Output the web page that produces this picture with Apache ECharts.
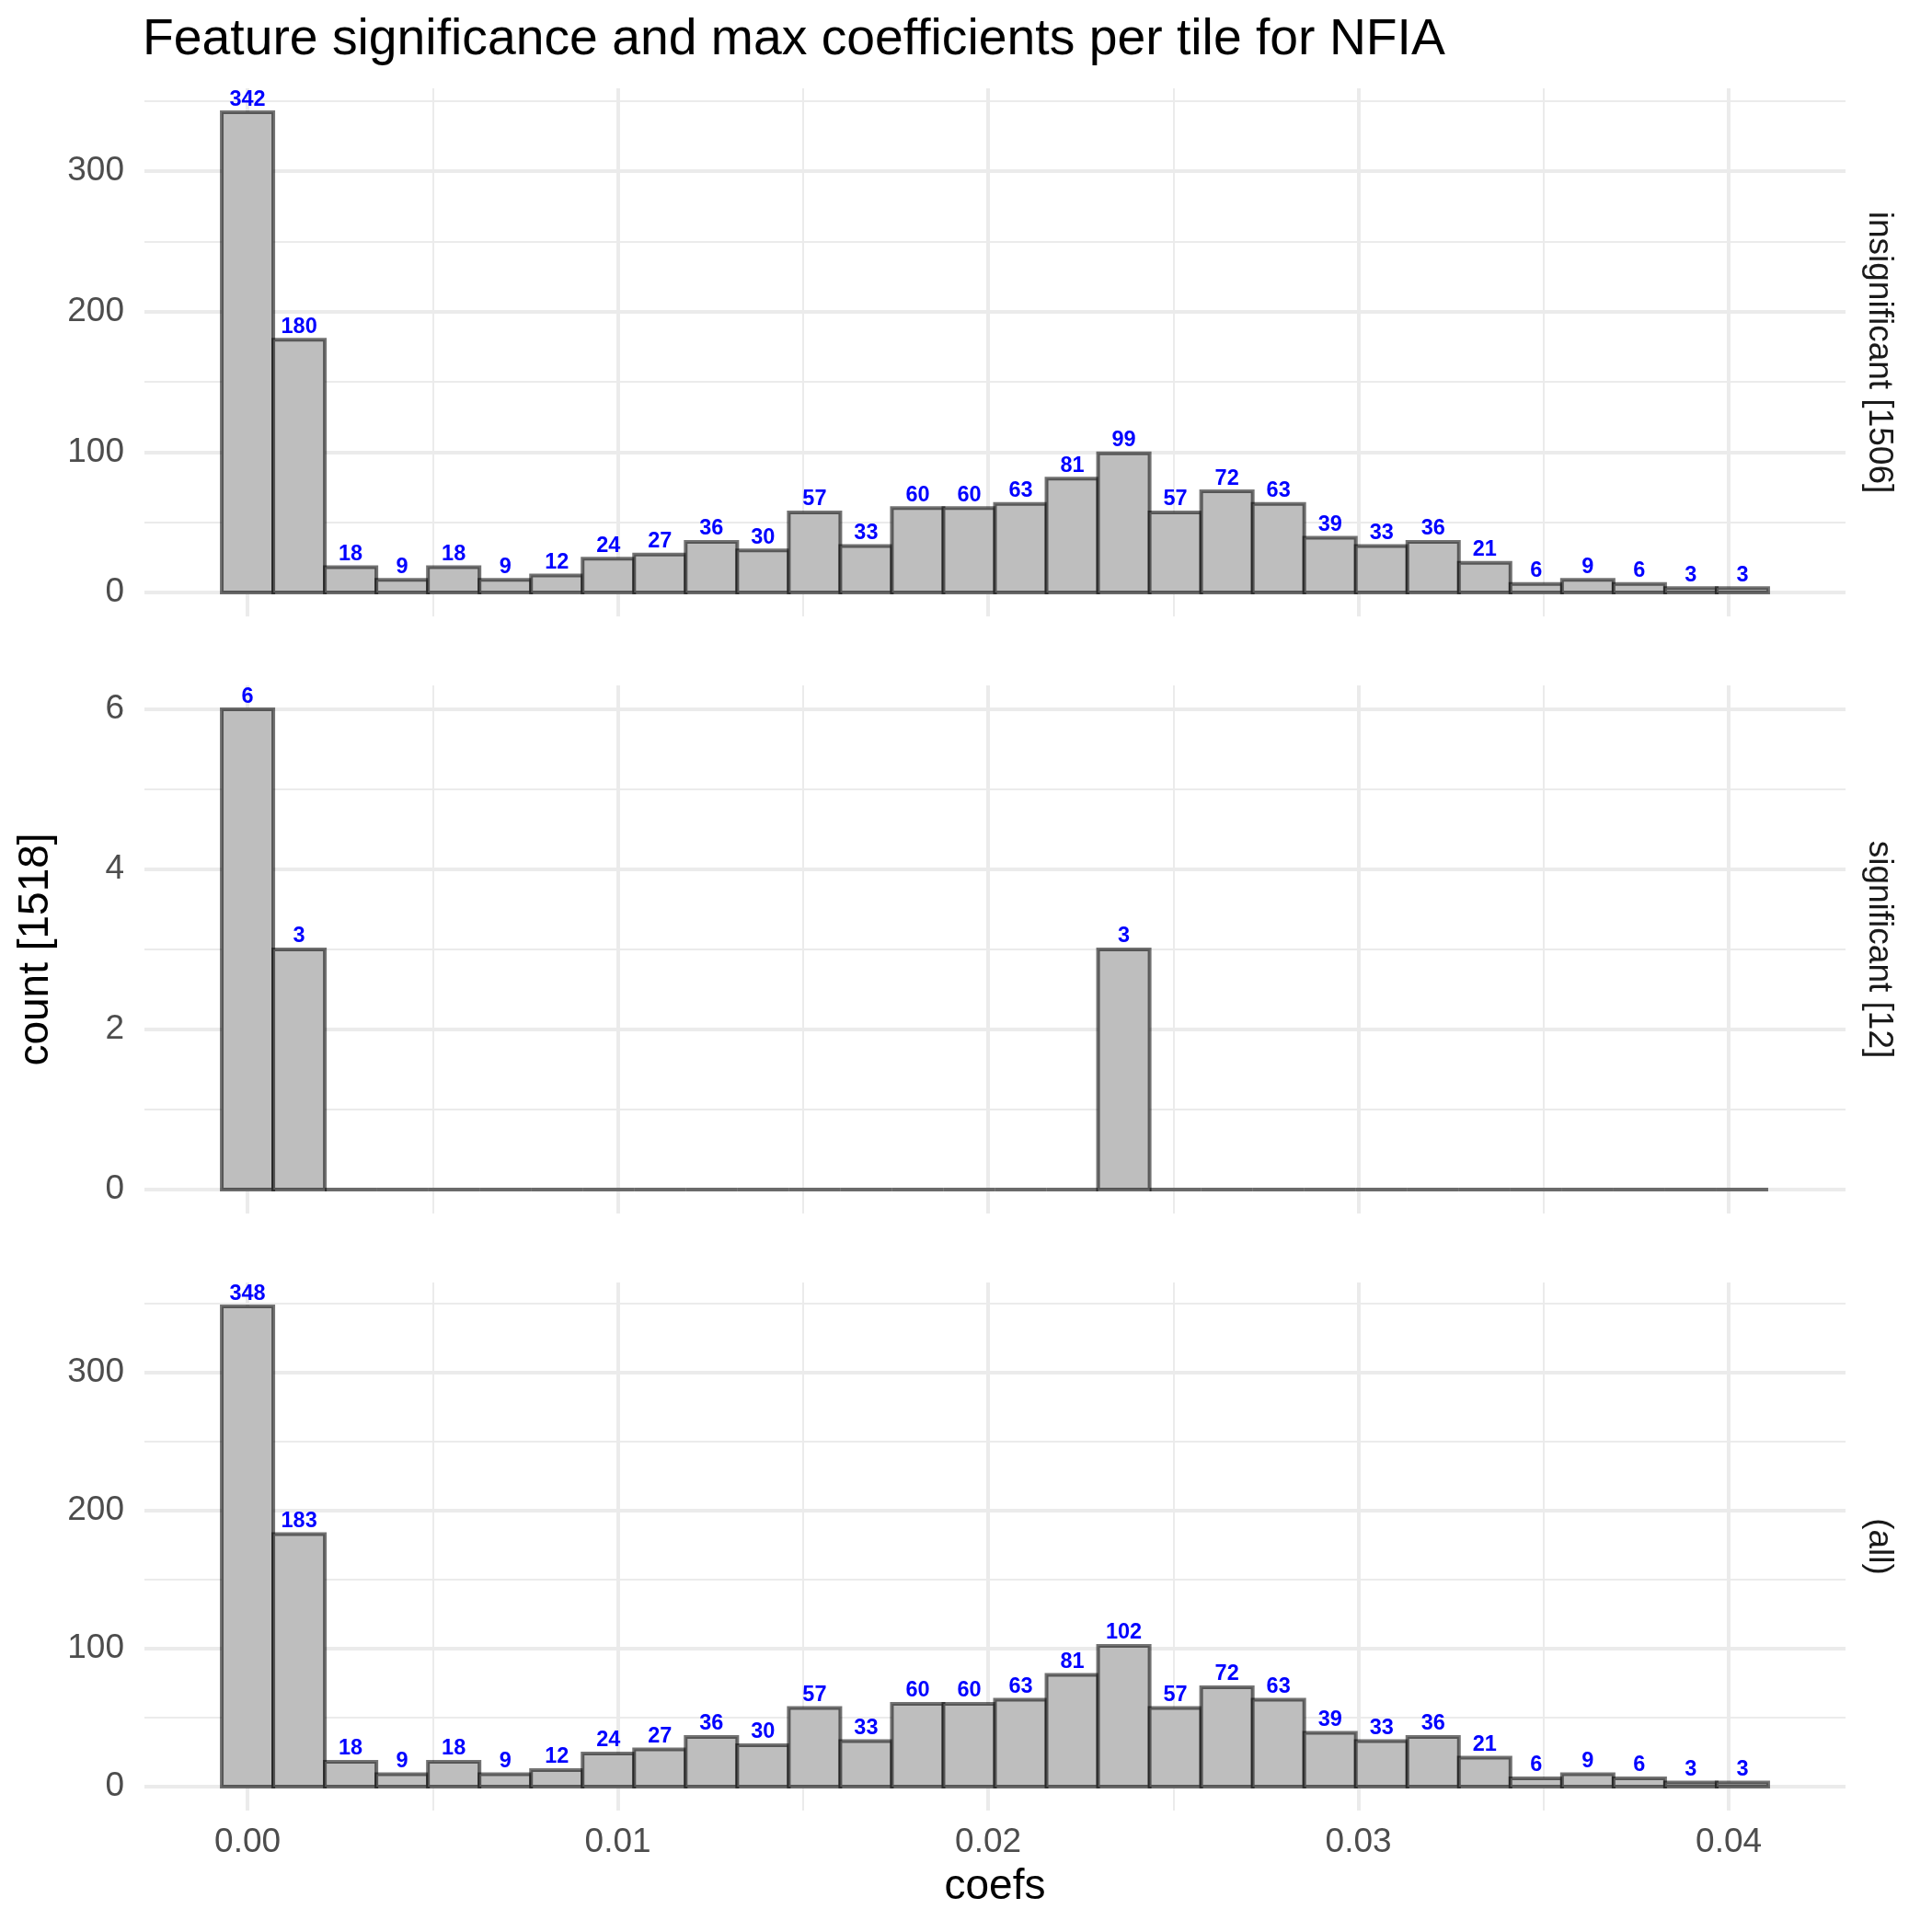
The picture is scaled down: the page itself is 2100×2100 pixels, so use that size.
<!DOCTYPE html>
<html>
<head>
<meta charset="utf-8">
<script src="https://cdn.jsdelivr.net/npm/echarts@6/dist/echarts.min.js"></script>
<style>html,body{margin:0;padding:0;background:#fff}#c{width:2100px;height:2100px}</style>
</head>
<body>
<div id="c"></div>
<script>
const titleText = 'Feature significance and max coefficients per tile for NFIA';
const panelLabels = ['insignificant [1506]', 'significant [12]', '(all)'];
const yAxisTitle = 'count [1518]';
const xAxisTitle = 'coefs';
const xTickDecimals = 2;

// histogram bins: width and centre of first bin (coefs units)
const binWidth = 0.001392;
const firstBinCenter = 0;

const insignificantCounts = [342, 180, 18, 9, 18, 9, 12, 24, 27, 36, 30, 57, 33, 60, 60, 63, 81, 99, 57, 72, 63, 39, 33, 36, 21, 6, 9, 6, 3, 3];
const significantCounts   = [6, 3, 0, 0, 0, 0, 0, 0, 0, 0, 0, 0, 0, 0, 0, 0, 0, 3, 0, 0, 0, 0, 0, 0, 0, 0, 0, 0, 0, 0];
const allCounts           = [348, 183, 18, 9, 18, 9, 12, 24, 27, 36, 30, 57, 33, 60, 60, 63, 81, 102, 57, 72, 63, 39, 33, 36, 21, 6, 9, 6, 3, 3];

const panels = [insignificantCounts, significantCounts, allCounts];

const FONT = '"Liberation Sans", Arial, sans-serif';
const gridLeft = 157, gridRight = 94, panelH = 574;
const panelTops = [96, 745, 1394];

function binData(counts) {
  return counts.map((c, k) => {
    const centre = firstBinCenter + k * binWidth;
    return [centre - binWidth / 2, centre + binWidth / 2, c];
  });
}

const dataMinX = firstBinCenter - binWidth / 2;
const dataMaxX = firstBinCenter + (insignificantCounts.length - 0.5) * binWidth;
const padX = (dataMaxX - dataMinX) * 0.05;
const xMin = dataMinX - padX, xMax = dataMaxX + padX;

function renderBars(params, api) {
  const x0 = api.value(0), x1 = api.value(1), y = api.value(2);
  const pTop = api.coord([x0, y]);
  const pBase = api.coord([x1, 0]);
  const stroke = 'rgba(0,0,0,0.55)';
  const children = [];
  if (y > 0) {
    children.push({
      type: 'rect',
      shape: { x: pTop[0], y: pTop[1], width: pBase[0] - pTop[0], height: pBase[1] - pTop[1] },
      style: { fill: '#BEBEBE', stroke: stroke, lineWidth: 4 }
    });
    children.push({
      type: 'text',
      x: (pTop[0] + pBase[0]) / 2,
      y: pTop[1] - 14,
      style: { text: String(y), fill: '#0000FF', fontSize: 23.5, fontWeight: 'bold', fontFamily: FONT, align: 'center', verticalAlign: 'middle' }
    });
  } else {
    children.push({
      type: 'line',
      shape: { x1: pTop[0], y1: pBase[1], x2: pBase[0], y2: pBase[1] },
      style: { stroke: stroke, lineWidth: 4 }
    });
  }
  return { type: 'group', children: children };
}

const grids = [], xAxes = [], yAxes = [], series = [];
panels.forEach((counts, i) => {
  grids.push({ left: gridLeft, right: gridRight, top: panelTops[i], height: panelH });
  xAxes.push({
    type: 'value', gridIndex: i, min: xMin, max: xMax, splitNumber: 5,
    axisLine: { show: false }, axisTick: { show: false },
    axisLabel: {
      show: i === panels.length - 1, color: '#4D4D4D', fontSize: 37, fontFamily: FONT, margin: 16,
      showMinLabel: false, showMaxLabel: false,
      formatter: v => v.toFixed(xTickDecimals)
    },
    splitLine: { show: true, showMinLine: false, showMaxLine: false, lineStyle: { color: '#EBEBEB', width: 4 } },
    minorTick: { show: false, splitNumber: 2 },
    minorSplitLine: { show: true, lineStyle: { color: '#EBEBEB', width: 2 } }
  });
  const maxC = Math.max(...counts);
  const padY = maxC * 0.05;
  yAxes.push({
    type: 'value', gridIndex: i, min: -padY, max: maxC + padY, splitNumber: 3,
    axisLine: { show: false }, axisTick: { show: false },
    axisLabel: { color: '#4D4D4D', fontSize: 37, fontFamily: FONT, margin: 22, showMinLabel: false, showMaxLabel: false },
    splitLine: { show: true, showMinLine: false, showMaxLine: false, lineStyle: { color: '#EBEBEB', width: 4 } },
    minorTick: { show: false, splitNumber: 2 },
    minorSplitLine: { show: true, lineStyle: { color: '#EBEBEB', width: 2 } }
  });
  series.push({
    type: 'custom', xAxisIndex: i, yAxisIndex: i, clip: false,
    renderItem: renderBars,
    encode: { x: [0, 1], y: 2 },
    data: binData(counts)
  });
});

const graphics = [];
panelLabels.forEach((lab, i) => {
  graphics.push({
    type: 'text', x: 2042, y: panelTops[i] + panelH / 2, rotation: -Math.PI / 2,
    style: { text: lab, fill: '#1A1A1A', fontSize: 37, fontFamily: FONT, align: 'center', verticalAlign: 'middle' }
  });
});
graphics.push({
  type: 'text', x: 39, y: (panelTops[0] + panelTops[2] + panelH) / 2, rotation: Math.PI / 2,
  style: { text: yAxisTitle, fill: '#000000', fontSize: 46, fontFamily: FONT, align: 'center', verticalAlign: 'middle' }
});
graphics.push({
  type: 'text', x: gridLeft + (2100 - gridLeft - gridRight) / 2, y: 2051,
  style: { text: xAxisTitle, fill: '#000000', fontSize: 46, fontFamily: FONT, align: 'center', verticalAlign: 'middle' }
});

const chart = echarts.init(document.getElementById('c'), null, { renderer: 'canvas' });
chart.setOption({
  backgroundColor: '#FFFFFF',
  animation: false,
  title: {
    text: titleText, left: 155, top: 16, padding: 0,
    textStyle: { fontSize: 55.3, fontWeight: 'normal', color: '#000000', fontFamily: FONT }
  },
  grid: grids,
  xAxis: xAxes,
  yAxis: yAxes,
  series: series,
  graphic: graphics
});
</script>
</body>
</html>
